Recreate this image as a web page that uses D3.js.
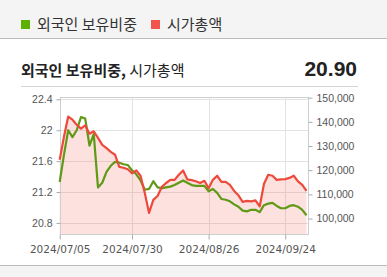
<!DOCTYPE html>
<html>
<head>
<meta charset="utf-8">
<script src="https://cdn.jsdelivr.net/npm/d3@7"></script>
<style>
  body { margin: 0; background: #fff; }
  svg { display: block; }
</style>
</head>
<body>
<div id="chart"></div>
<script>
// foreign ownership ratio (%) per trading day, 2024/07/05 ~ 2024/10
const ratio = [21.33, 21.68, 22.00, 21.91, 22.00, 22.17, 22.15, 21.80, 21.95, 21.26,
    21.32, 21.46, 21.54, 21.59, 21.58, 21.56, 21.55, 21.48, 21.43, 21.35,
    21.23, 21.24, 21.34, 21.26, 21.25, 21.26, 21.27, 21.29, 21.32, 21.35,
    21.32, 21.29, 21.28, 21.28, 21.28, 21.21, 21.24, 21.19, 21.11, 21.10,
    21.08, 21.04, 21.01, 20.96, 20.95, 20.97, 20.97, 20.94, 21.03, 21.05,
    21.06, 21.02, 20.99, 20.99, 21.02, 21.03, 21.01, 20.97, 20.90];

// market cap per trading day
const cap = [124300, 133800, 142200, 140900, 138800, 137200, 138600, 135100, 136100, 133400,
    130500, 129100, 127600, 126400, 121400, 121000, 120400, 118700, 119900, 117700,
    110600, 102300, 107700, 109300, 113100, 114700, 116000, 116000, 118100, 119900,
    116200, 115900, 115400, 114700, 115600, 112500, 116000, 117700, 115200, 115200,
    113900, 111400, 109600, 106900, 107300, 107100, 107500, 105000, 114300, 118100,
    117700, 116000, 116200, 116300, 116800, 117700, 115400, 113900, 111400];

const xTickIdx = [0, 17, 35, 53];
const xTickLabels = ["2024/07/05", "2024/07/30", "2024/08/26", "2024/09/24"];
const leftTicks = [20.8, 21.2, 21.6, 22, 22.4];
const rightTicks = [100000, 110000, 120000, 130000, 140000, 150000];

const W = 387, H = 277;
const plot = {left: 60, right: 308, top: 97, bottom: 234};
const green = "#5f9916", red = "#ee4a3b";

const svg = d3.select("#chart").append("svg")
    .attr("width", W).attr("height", H);

// top legend bar
svg.append("rect").attr("x", 0).attr("y", 0).attr("width", W).attr("height", 38).attr("fill", "#f4f4f4");
svg.append("line").attr("x1", 0).attr("x2", W).attr("y1", 38.5).attr("y2", 38.5).attr("stroke", "#bcbcbc");

const legend = svg.append("g").attr("font-family", "'Noto Sans CJK KR', sans-serif").attr("font-size", 15).attr("fill", "#333");
legend.append("rect").attr("x", 21).attr("y", 20).attr("width", 9).attr("height", 9).attr("fill", "#5cb000");
legend.append("text").attr("x", 37).attr("y", 30).text("외국인 보유비중");
legend.append("rect").attr("x", 151).attr("y", 20).attr("width", 9).attr("height", 9).attr("fill", "#f2534a");
legend.append("text").attr("x", 167).attr("y", 30).text("시가총액");

// title row
const title = svg.append("text").attr("x", 21).attr("y", 76)
    .attr("font-family", "'Noto Sans CJK KR', sans-serif").attr("font-size", 15).attr("fill", "#222");
title.append("tspan").attr("font-weight", "bold").text("외국인 보유비중,");
title.append("tspan").text(" 시가총액");
svg.append("text").attr("x", 357).attr("y", 76).attr("text-anchor", "end")
    .attr("font-family", "Arial, 'Liberation Sans', sans-serif").attr("font-weight", "bold")
    .attr("font-size", 21).attr("fill", "#222").text("20.90");
svg.append("line").attr("x1", 21).attr("x2", 358).attr("y1", 86.5).attr("y2", 86.5).attr("stroke", "#d4d4d4");

// bottom bar
svg.append("rect").attr("x", 0).attr("y", 265).attr("width", W).attr("height", H - 265).attr("fill", "#f4f4f4");
svg.append("line").attr("x1", 0).attr("x2", W).attr("y1", 265.5).attr("y2", 265.5).attr("stroke", "#bcbcbc");

// scales
const x = d3.scaleLinear().domain([0, ratio.length - 1]).range([59.7, 306.5]);
const yL = d3.scaleLinear().domain([20.657, 22.43]).range([plot.bottom, plot.top]);
const yR = d3.scaleLinear().domain([93590, 150290]).range([plot.bottom, plot.top]);

// gridlines
const grid = svg.append("g").attr("stroke", "#e3e3e3").attr("stroke-width", 1);
leftTicks.forEach(t => {
    grid.append("line").attr("x1", plot.left).attr("x2", plot.right)
        .attr("y1", Math.round(yL(t)) + 0.5).attr("y2", Math.round(yL(t)) + 0.5);
});
xTickIdx.slice(1).forEach(i => {
    grid.append("line").attr("x1", Math.round(x(i)) + 0.5).attr("x2", Math.round(x(i)) + 0.5)
        .attr("y1", plot.top).attr("y2", plot.bottom);
});

// area under market cap
const area = d3.area().x((d, i) => x(i)).y0(plot.bottom).y1(d => yR(d));
svg.append("path").datum(cap).attr("d", area).attr("fill", "rgba(247,105,95,0.2)");

// plot frame
svg.append("rect").attr("x", plot.left + 0.5).attr("y", plot.top + 0.5)
    .attr("width", plot.right - plot.left).attr("height", plot.bottom - plot.top)
    .attr("fill", "none").attr("stroke", "#cfcfcf");

// lines
const lineL = d3.line().x((d, i) => x(i)).y(d => yL(d));
const lineR = d3.line().x((d, i) => x(i)).y(d => yR(d));
svg.append("path").datum(ratio).attr("d", lineL).attr("fill", "none")
    .attr("stroke", green).attr("stroke-width", 2.2).attr("stroke-linejoin", "round");
svg.append("path").datum(cap).attr("d", lineR).attr("fill", "none")
    .attr("stroke", red).attr("stroke-width", 2.2).attr("stroke-linejoin", "round");

// axes
const axisFont = "Arial, 'Liberation Sans', sans-serif";
const left = svg.append("g").attr("transform", "translate(" + (plot.left + 0.5) + ",0)")
    .call(d3.axisLeft(yL).tickValues(leftTicks).tickSize(4).tickSizeOuter(0).tickPadding(4)
        .tickFormat(d => d));
const right = svg.append("g").attr("transform", "translate(" + (plot.right + 0.5) + ",0)")
    .call(d3.axisRight(yR).tickValues(rightTicks).tickSize(4).tickSizeOuter(0).tickPadding(4)
        .tickFormat(d3.format(",")));
const bottom = svg.append("g").attr("transform", "translate(0," + (plot.bottom + 0.5) + ")")
    .call(d3.axisBottom(x).tickValues(xTickIdx).tickSize(5).tickSizeOuter(0).tickPadding(6)
        .tickFormat((d, i) => xTickLabels[i]));

[left, right, bottom].forEach(g => {
    g.select(".domain").remove();
    g.selectAll(".tick line").attr("stroke", "#aaa");
    g.selectAll("text").attr("fill", "#555").attr("font-family", axisFont).attr("font-size", 10.5);
});
bottom.selectAll("text").attr("font-family", "'DejaVu Sans', sans-serif").attr("font-size", 10.5);
</script>
</body>
</html>
